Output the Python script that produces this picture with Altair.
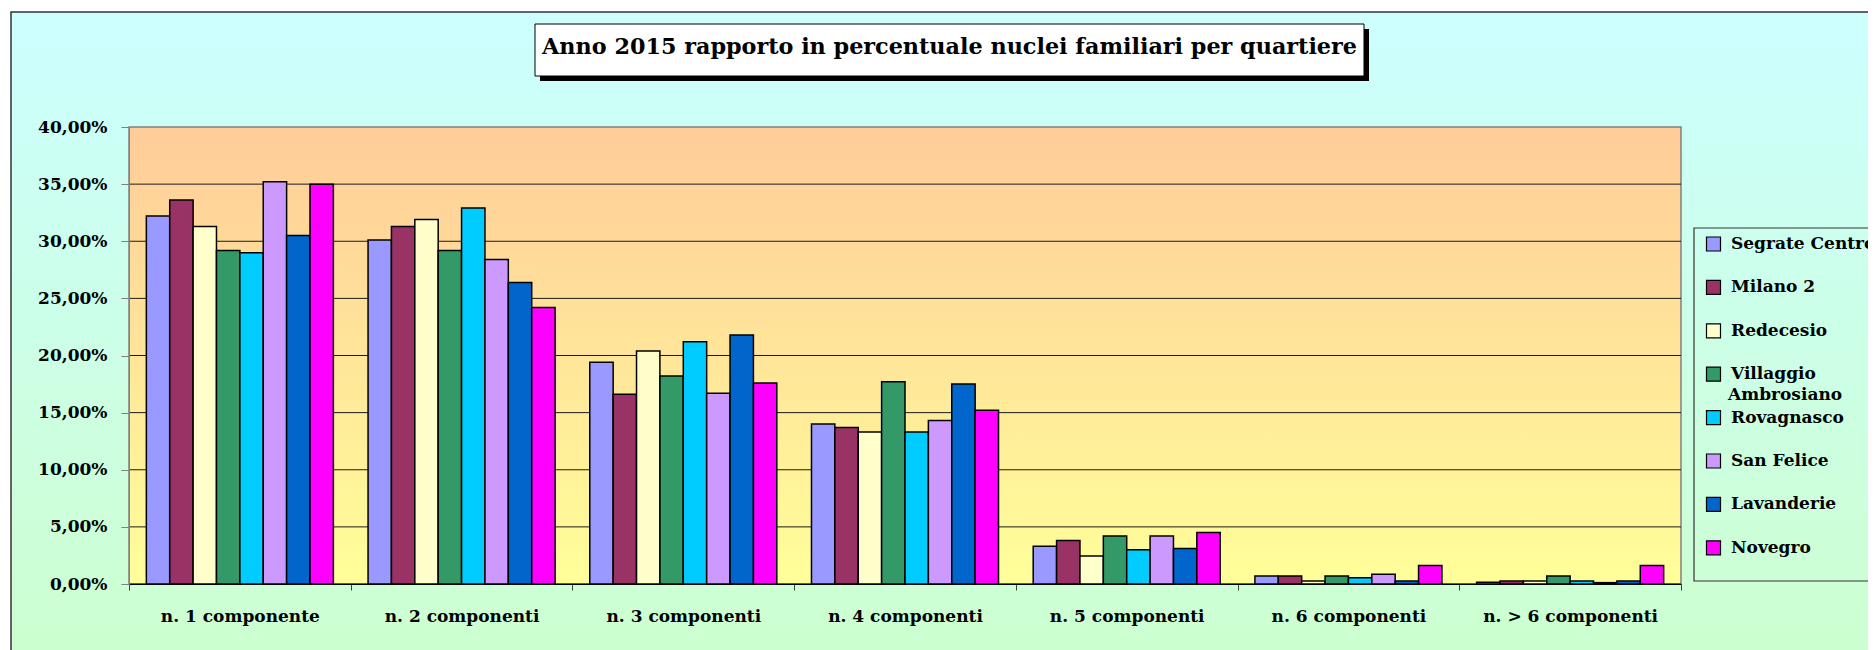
import altair as alt
import pandas as pd

# ---------------- data ----------------
categories = ["n. 1 componente", "n. 2 componenti", "n. 3 componenti", "n. 4 componenti",
              "n. 5 componenti", "n. 6 componenti", "n. > 6 componenti"]
quartieri = ["Segrate Centro", "Milano 2", "Redecesio", "Villaggio Ambrosiano",
             "Rovagnasco", "San Felice", "Lavanderie", "Novegro"]
colors = ["#9999FF", "#993366", "#FFFFCC", "#339966", "#00CCFF", "#CC99FF", "#0066CC", "#FF00FF"]

segrate_centro = [32.2, 30.1, 19.4, 14.0, 3.3, 0.7, 0.15]
milano_2 = [33.6, 31.3, 16.6, 13.7, 3.8, 0.7, 0.26]
redecesio = [31.3, 31.9, 20.4, 13.3, 2.45, 0.26, 0.26]
villaggio_ambrosiano = [29.2, 29.2, 18.2, 17.7, 4.2, 0.7, 0.7]
rovagnasco = [29.0, 32.9, 21.2, 13.3, 3.0, 0.55, 0.26]
san_felice = [35.2, 28.4, 16.7, 14.3, 4.2, 0.85, 0.12]
lavanderie = [30.5, 26.4, 21.8, 17.5, 3.1, 0.26, 0.26]
novegro = [35.0, 24.2, 17.6, 15.2, 4.5, 1.63, 1.63]

y_ticks = [0, 5, 10, 15, 20, 25, 30, 35, 40]
title_text = "Anno 2015 rapporto in percentuale nuclei familiari per quartiere"

series = [segrate_centro, milano_2, redecesio, villaggio_ambrosiano,
          rovagnasco, san_felice, lavanderie, novegro]
rows = []
for q, vals in zip(quartieri, series):
    for c, v in zip(categories, vals):
        rows.append({"categoria": c, "quartiere": q, "valore": v})
df = pd.DataFrame(rows)

# ---------------- layout ----------------
W, H = 1552, 457
FONT = "DejaVu Serif"
one = pd.DataFrame({"k": [0]})

grad_outer = alt.LinearGradient(
    gradient="linear",
    stops=[alt.GradientStop(color="#CCFFFF", offset=0), alt.GradientStop(color="#CCFFCC", offset=1)],
    x1=0, x2=0, y1=0, y2=1)
grad_plot = alt.LinearGradient(
    gradient="linear",
    stops=[alt.GradientStop(color="#FFCC99", offset=0), alt.GradientStop(color="#FFFF99", offset=1)],
    x1=0, x2=0, y1=0, y2=1)

yscale = alt.Scale(domain=[0, 40], nice=False)
yaxis = alt.Axis(values=y_ticks, title=None, zindex=1,
                 labelExpr="replace(format(datum.value, '.2f'), '.', ',') + '%'",
                 labelFont=FONT, labelFontWeight="bold", labelColor="black",
                 labelFontSize=17, tickSize=8, labelPadding=14, grid=False,
                 domainColor="#808080", tickColor="#808080")

outer = alt.Chart(one).mark_rect(fill=grad_outer, stroke="#333333", strokeWidth=1.5).encode(
    x=alt.value(-118), x2=alt.value(W + 260), y=alt.value(-115), y2=alt.value(H + 120))

plotbg = alt.Chart(one).mark_rect(fill=grad_plot, stroke="#808080", strokeWidth=1.5).encode(
    x=alt.value(0), x2=alt.value(W), y=alt.value(0), y2=alt.value(H))

grid = alt.Chart(pd.DataFrame({"t": y_ticks})).transform_filter("datum.t < 40").mark_rule(
    color="#1a1a1a", strokeWidth=1).encode(
    y=alt.Y("t:Q", scale=yscale, axis=yaxis), x=alt.value(0), x2=alt.value(W))

bars = alt.Chart(df).mark_bar(stroke="black", strokeWidth=1.5).encode(
    x=alt.X("categoria:N", sort=categories,
            scale=alt.Scale(paddingInner=0, paddingOuter=0),
            axis=alt.Axis(title=None, tickBand="extent", labelAngle=0, labelFontSize=17,
                          labelFont=FONT, labelFontWeight="bold", labelColor="black",
                          tickSize=6, labelPadding=18, domainColor="black", grid=False,
                          tickColor="#404040", labelLimit=300, zindex=1)),
    xOffset=alt.XOffset("quartiere:N", sort=quartieri,
                        scale=alt.Scale(paddingInner=0, paddingOuter=0.742)),
    y=alt.Y("valore:Q", scale=yscale, axis=yaxis),
    fill=alt.Fill("quartiere:N", sort=quartieri,
                  scale=alt.Scale(domain=quartieri, range=colors),
                  legend=alt.Legend(title=None, orient="none", legendX=1576, legendY=108.5,
                                    symbolType="square", symbolSize=196,
                                    symbolStrokeColor="black", symbolStrokeWidth=1.2,
                                    labelFont=FONT, labelFontWeight="bold", labelFontSize=17,
                                    labelColor="black", labelOffset=9, rowPadding=24.4,
                                    padding=0, labelLimit=400, zindex=1,
                                    labelExpr="datum.label == 'Villaggio Ambrosiano' ? 'Villaggio' : datum.label")),
)

legend_box = alt.Chart(one).mark_rect(fill="transparent", stroke="#333333", strokeWidth=1.2).encode(
    x=alt.value(1565), x2=alt.value(W + 260), y=alt.value(101), y2=alt.value(454))

legend_line2 = alt.Chart(pd.DataFrame({"t": ["Ambrosiano"]})).mark_text(
    font=FONT, fontWeight="bold", fontSize=17, align="left", baseline="middle", color="black").encode(
    text="t:N", x=alt.value(1599), y=alt.value(268))

shadow = alt.Chart(one).mark_rect(fill="black").encode(
    x=alt.value(411), x2=alt.value(1240), y=alt.value(-98), y2=alt.value(-46))
tbox = alt.Chart(one).mark_rect(fill="white", stroke="black", strokeWidth=1).encode(
    x=alt.value(406), x2=alt.value(1235), y=alt.value(-103), y2=alt.value(-51))
ttext = alt.Chart(pd.DataFrame({"t": [title_text]})).mark_text(
    font=FONT, fontWeight="bold", fontSize=22.3, align="center", baseline="alphabetic", color="black").encode(
    text="t:N", x=alt.value(820.5), y=alt.value(-73))

chart = alt.layer(outer, plotbg, grid, bars, legend_box, legend_line2, shadow, tbox, ttext).properties(
    width=W, height=H,
    padding={"left": 121, "top": 119, "right": 187, "bottom": 66},
    autosize=alt.AutoSizeParams(type="none"),
    background="white",
).configure_view(strokeWidth=0)

chart.save("out.html", embed_options={"renderer": "svg", "actions": False})
